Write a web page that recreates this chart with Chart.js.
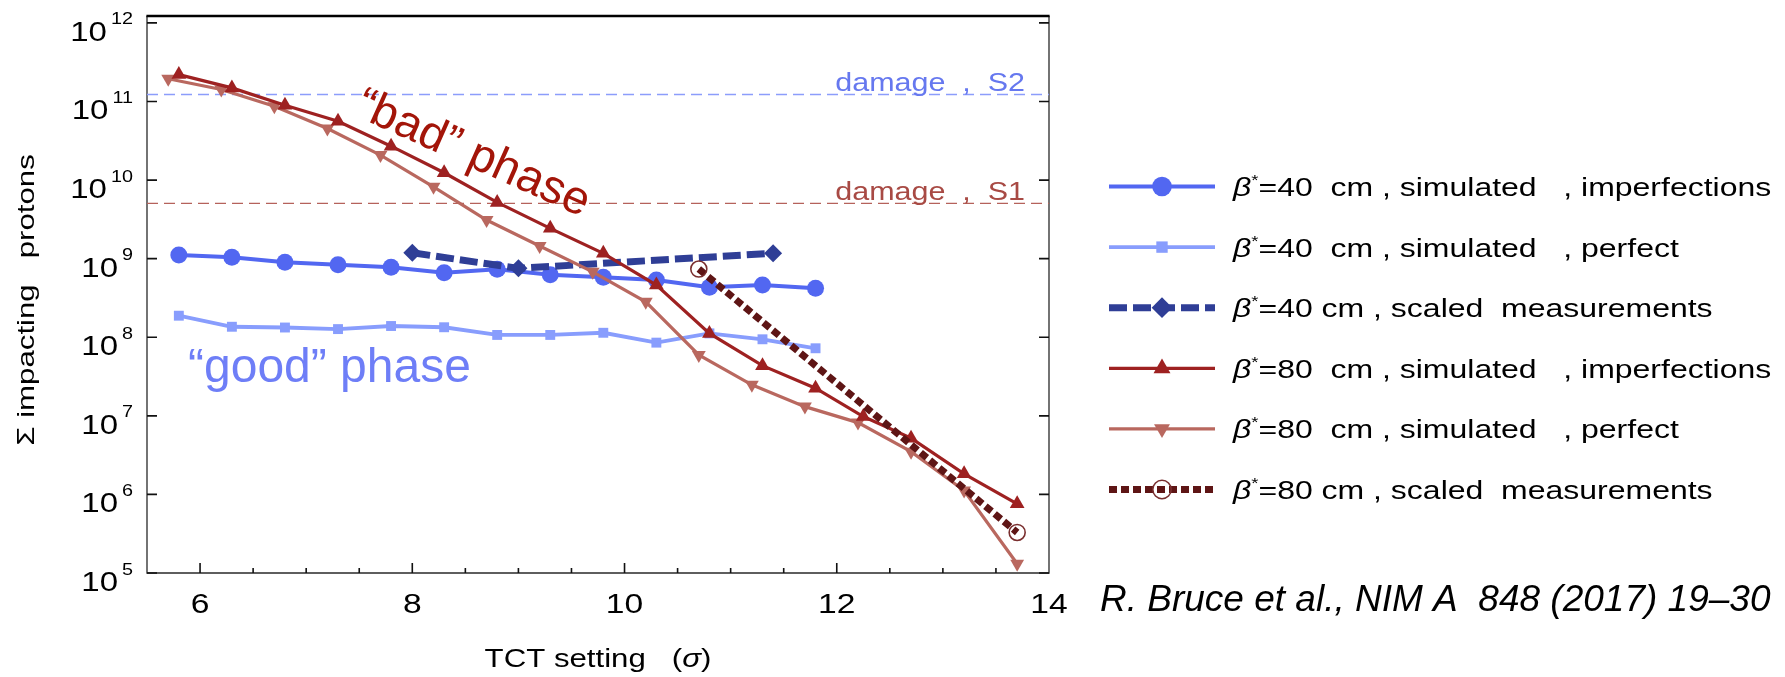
<!DOCTYPE html>
<html lang="en">
<head>
<meta charset="UTF-8">
<title>TCT setting scan</title>
<script src="https://cdn.jsdelivr.net/npm/chart.js"></script>
<style>
  html, body { margin: 0; padding: 0; background: #fff; }
  canvas { display: block; }
</style>
</head>
<body>
<canvas id="tctChart" width="1785" height="677"></canvas>
<script>
// TCT setting (sigma) for each series
const xB40 = [5.8, 6.3, 6.8, 7.3, 7.8, 8.3, 8.8, 9.3, 9.8, 10.3, 10.8, 11.3, 11.8];
const xB40Meas = [8.0, 9.0, 11.4];
const xB80Imp = [5.8, 6.3, 6.8, 7.3, 7.8, 8.3, 8.8, 9.3, 9.8, 10.3, 10.8, 11.3, 11.8, 12.25, 12.7, 13.2, 13.7];
const xB80Perf = [5.7, 6.2, 6.7, 7.2, 7.7, 8.2, 8.7, 9.2, 9.7, 10.2, 10.7, 11.2, 11.7, 12.2, 12.7, 13.2, 13.7];
const xB80Meas = [10.7, 13.7];

// sum of impacting protons
const b40Imperfect = [1.11e9, 1.04e9, 8.98e8, 8.37e8, 7.76e8, 6.63e8, 7.31e8, 6.25e8, 5.79e8, 5.35e8, 4.32e8, 4.62e8, 4.20e8];
const b40Perfect = [1.88e8, 1.36e8, 1.33e8, 1.27e8, 1.39e8, 1.34e8, 1.07e8, 1.07e8, 1.14e8, 8.54e7, 1.12e8, 9.42e7, 7.24e7];
const b40Meas = [1.19e9, 7.53e8, 1.17e9];
const b80Imperfect = [2.2e11, 1.49e11, 8.97e10, 5.61e10, 2.70e10, 1.24e10, 5.20e9, 2.43e9, 1.17e9, 4.62e8, 1.12e8, 4.35e7, 2.25e7, 9.8e6, 5.2e6, 1.83e6, 7.6e5];
const b80Perfect = [1.95e11, 1.42e11, 8.7e10, 4.54e10, 2.08e10, 8.2e9, 3.1e9, 1.45e9, 6.8e8, 2.83e8, 5.96e7, 2.48e7, 1.31e7, 8.2e6, 3.5e6, 1.12e6, 1.31e5];
const b80Meas = [7.38e8, 3.28e5];

// damage thresholds
const damageS2 = 1.23e11;
const damageS1 = 5.05e9;

// axes
const xTicks = [6, 8, 10, 12, 14];
const yTickExp = [5, 6, 7, 8, 9, 10, 11, 12];

const legendText = [
    ['=40', '  cm , simulated   , imperfections'],
    ['=40', '  cm , simulated   , perfect'],
    ['=40', ' cm , scaled  measurements'],
    ['=80', '  cm , simulated   , imperfections'],
    ['=80', '  cm , simulated   , perfect'],
    ['=80', ' cm , scaled  measurements']
];

const FONT = "'Liberation Sans', Arial, sans-serif";

function pts(xs, ys) {
    return xs.map((x, i) => ({ x: x, y: ys[i] }));
}

// text made of pieces with different fonts, stretched horizontally by sx
function drawRuns(c, parts, x, y, align, sx) {
    c.save();
    c.translate(x, y);
    c.scale(sx, 1);
    c.textBaseline = 'alphabetic';
    c.textAlign = 'left';
    const widths = parts.map(p => {
        c.font = (p.italic ? 'italic ' : '') + p.size + 'px ' + FONT;
        return c.measureText(p.t).width;
    });
    const total = widths.reduce((a, b) => a + b, 0);
    let cx = align === 'center' ? -total / 2 : (align === 'right' ? -total : 0);
    parts.forEach((p, i) => {
        c.font = (p.italic ? 'italic ' : '') + p.size + 'px ' + FONT;
        c.fillStyle = p.color || '#000';
        c.fillText(p.t, cx, p.dy || 0);
        cx += widths[i];
    });
    c.restore();
    return total * sx;
}

function drawMarker(c, style, x, y, r, rot, fill, stroke, bw) {
    c.save();
    c.translate(x, y);
    c.rotate(rot * Math.PI / 180);
    c.beginPath();
    if (style === 'circle') {
        c.arc(0, 0, r, 0, Math.PI * 2);
    } else if (style === 'rect') {
        const h = r * Math.SQRT1_2;
        c.rect(-h, -h, 2 * h, 2 * h);
    } else if (style === 'rectRot') {
        c.moveTo(0, -r); c.lineTo(r, 0); c.lineTo(0, r); c.lineTo(-r, 0); c.closePath();
    } else if (style === 'triangle') {
        for (let k = 0; k < 3; k++) {
            const a = k * 2 * Math.PI / 3;
            if (k === 0) c.moveTo(Math.sin(a) * r, -Math.cos(a) * r);
            else c.lineTo(Math.sin(a) * r, -Math.cos(a) * r);
        }
        c.closePath();
    }
    c.setLineDash([]);
    c.fillStyle = fill;
    c.fill();
    if (bw > 0) {
        c.lineWidth = bw;
        c.strokeStyle = stroke;
        c.stroke();
    }
    c.restore();
}

const frameAndLabels = {
    id: 'frameAndLabels',
    beforeDatasetsDraw(chart) {
        const c = chart.ctx;
        const a = chart.chartArea;
        const xs = chart.scales.x;
        const ys = chart.scales.y;
        c.save();
        c.strokeStyle = '#2a2a2a';
        c.lineWidth = 1.3;
        c.beginPath();
        c.moveTo(a.left, a.top);
        c.lineTo(a.left, a.bottom);
        c.lineTo(a.right, a.bottom);
        c.lineTo(a.right, a.top);
        c.stroke();
        c.strokeStyle = '#000';
        c.lineWidth = 2.5;
        c.beginPath();
        c.moveTo(a.left - 0.6, a.top);
        c.lineTo(a.right + 0.6, a.top);
        c.stroke();

        // ticks pointing inwards
        c.strokeStyle = '#111';
        c.lineWidth = 1.6;
        c.beginPath();
        for (let v = 6; v < 14; v += 0.5) {
            const px = xs.getPixelForValue(v);
            const len = xTicks.includes(v) ? 10 : 5;
            c.moveTo(px, a.bottom);
            c.lineTo(px, a.bottom - len);
        }
        yTickExp.forEach(e => {
            const py = ys.getPixelForValue(Math.pow(10, e));
            c.moveTo(a.left, py);
            c.lineTo(a.left + 10, py);
            c.moveTo(a.right, py);
            c.lineTo(a.right - 10, py);
        });
        c.stroke();
        c.restore();
    },
    afterDraw(chart) {
        const c = chart.ctx;
        const a = chart.chartArea;
        const xs = chart.scales.x;
        const ys = chart.scales.y;
        const SX = 1.2;

        // y tick labels 10^n
        yTickExp.forEach(e => {
            const py = ys.getPixelForValue(Math.pow(10, e));
            const w = drawRuns(c, [{ t: String(e), size: 16.5 }], a.left - 14, py + 1.5, 'right', SX);
            drawRuns(c, [{ t: '10', size: 27.5 }], a.left - 14 - w - 4, py + 18, 'right', SX);
        });

        // x tick labels
        xTicks.forEach(v => {
            const px = xs.getPixelForValue(v);
            drawRuns(c, [{ t: String(v), size: 28 }], px, a.bottom + 40, 'center', SX);
        });

        // axis titles
        drawRuns(c, [
            { t: 'TCT setting   (', size: 26 },
            { t: 'σ', size: 26, italic: true },
            { t: ')', size: 26 }
        ], (a.left + a.right) / 2, 667, 'center', SX);

        c.save();
        c.translate(27, 300);
        c.scale(1, 1.3);
        c.rotate(-Math.PI / 2);
        c.font = '24px ' + FONT;
        c.fillStyle = '#000';
        c.textAlign = 'center';
        c.textBaseline = 'middle';
        c.fillText('Σ impacting   protons', 0, 0);
        c.restore();

        // damage labels
        drawRuns(c, [{ t: 'damage  ,  S2', size: 26.5, color: '#6678ef' }],
            a.right - 24, ys.getPixelForValue(damageS2) - 3, 'right', 1.15);
        drawRuns(c, [{ t: 'damage  ,  S1', size: 26.5, color: '#a84a44' }],
            a.right - 24, ys.getPixelForValue(damageS1) - 3, 'right', 1.15);

        // phase annotations
        c.save();
        c.translate(353, 115);
        c.rotate(24 * Math.PI / 180);
        c.font = '47px ' + FONT;
        c.fillStyle = '#a31509';
        c.textBaseline = 'alphabetic';
        c.fillText('\u201Cbad\u201D phase', 0, 0);
        c.restore();

        c.save();
        c.font = '48px ' + FONT;
        c.fillStyle = '#6e7ef7';
        c.textBaseline = 'alphabetic';
        c.fillText('\u201Cgood\u201D phase', 188, 382);
        c.restore();

        // legend
        chart.data.datasets.slice(0, 6).forEach((ds, i) => {
            const y = 186.5 + i * 60.6;
            c.save();
            c.strokeStyle = ds.borderColor;
            c.lineWidth = ds.borderWidth;
            c.setLineDash(ds.borderDash || []);
            c.lineCap = 'butt';
            c.beginPath();
            c.moveTo(1109, y);
            c.lineTo(1215, y);
            c.stroke();
            c.restore();
            drawMarker(c, ds.pointStyle, 1162, y, ds.pointRadius * 1.15, ds.pointRotation || 0,
                ds.pointBackgroundColor, ds.pointBorderColor, ds.pointBorderWidth);
            drawRuns(c, [
                { t: 'β', size: 26, italic: true },
                { t: '*', size: 15, dy: -11 },
                { t: legendText[i][0] + legendText[i][1], size: 26 }
            ], 1233, y + 9.5, 'left', 1.23);
        });

        // reference
        c.save();
        c.font = 'italic 37px ' + FONT;
        c.fillStyle = '#000';
        c.textBaseline = 'middle';
        c.fillText('R. Bruce et al., NIM A  848 (2017) 19\u201330', 1100, 601);
        c.restore();
    }
};

function series(label, xs, ys, color, width, style, radius, order, extra) {
    return Object.assign({
        label: label,
        data: pts(xs, ys),
        borderColor: color,
        backgroundColor: color,
        pointBackgroundColor: color,
        pointBorderColor: color,
        pointBorderWidth: 0,
        borderWidth: width,
        pointStyle: style,
        pointRadius: radius,
        tension: 0,
        order: order,
        clip: false
    }, extra || {});
}

const chart = new Chart(document.getElementById('tctChart').getContext('2d'), {
    type: 'line',
    data: {
        datasets: [
            series('β*=40 cm, simulated, imperfections', xB40, b40Imperfect, '#5267f1', 4, 'circle', 8.5, 5),
            series('β*=40 cm, simulated, perfect', xB40, b40Perfect, '#889dfd', 3.8, 'rect', 7, 6),
            series('β*=40 cm, scaled measurements', xB40Meas, b40Meas, '#2f3e96', 7, 'rectRot', 9, 4,
                { borderDash: [18, 6] }),
            series('β*=80 cm, simulated, imperfections', xB80Imp, b80Imperfect, '#9e2121', 3.2, 'triangle', 8.5, 2),
            series('β*=80 cm, simulated, perfect', xB80Perf, b80Perfect, '#b9685f', 3.2, 'triangle', 8, 3,
                { pointRotation: 180 }),
            series('β*=80 cm, scaled measurements', xB80Meas, b80Meas, '#5e1515', 7, 'circle', 8, 1,
                { borderDash: [8, 4], pointBackgroundColor: 'rgba(255,255,255,0)', pointBorderColor: '#7a2f2f', pointBorderWidth: 1.6 }),
            {
                label: 'damage, S2',
                data: [{ x: 5.5, y: damageS2 }, { x: 14, y: damageS2 }],
                borderColor: '#8c9dfb',
                borderWidth: 1.4,
                borderDash: [11, 6],
                pointRadius: 0,
                order: 8
            },
            {
                label: 'damage, S1',
                data: [{ x: 5.5, y: damageS1 }, { x: 14, y: damageS1 }],
                borderColor: '#b5625b',
                borderWidth: 1.4,
                borderDash: [11, 6],
                pointRadius: 0,
                order: 9
            }
        ]
    },
    options: {
        responsive: false,
        animation: false,
        layout: { padding: { left: 147, right: 736, top: 16, bottom: 104 } },
        plugins: {
            legend: { display: false },
            tooltip: { enabled: false }
        },
        scales: {
            x: { type: 'linear', min: 5.5, max: 14, bounds: 'data', display: false },
            y: { type: 'logarithmic', min: 1e5, max: Math.pow(10, 12.088), bounds: 'data', display: false }
        }
    },
    plugins: [frameAndLabels]
});
</script>
</body>
</html>
